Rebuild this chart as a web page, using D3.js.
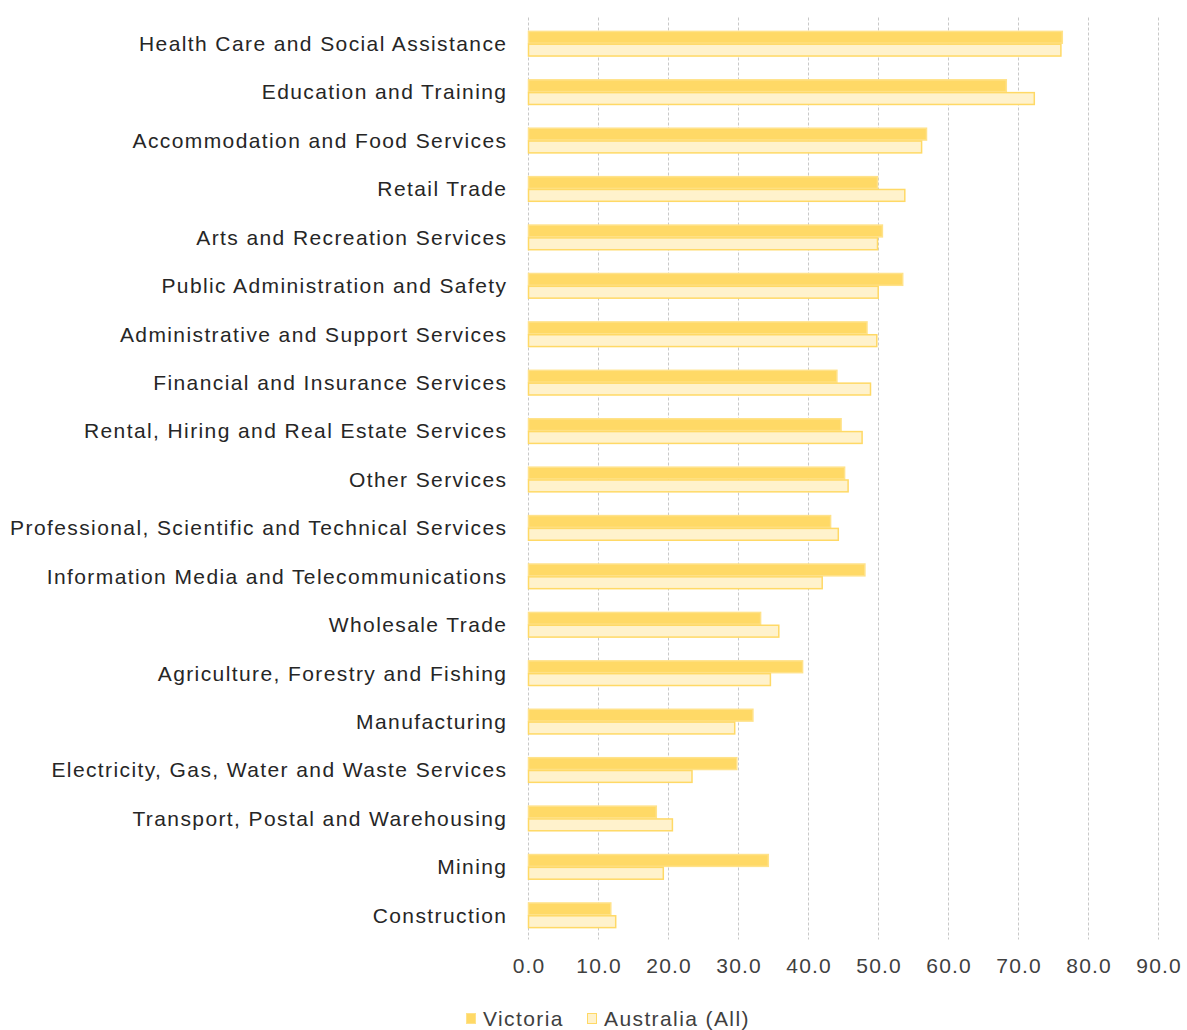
<!DOCTYPE html>
<html><head><meta charset="utf-8">
<script src="https://cdn.jsdelivr.net/npm/d3@7"></script>
<style>body{margin:0;background:#fff;} svg{display:block;}</style>
</head><body>
<svg id="chart" width="1187" height="1030"></svg>
<script>
const categories = ["Health Care and Social Assistance","Education and Training","Accommodation and Food Services","Retail Trade","Arts and Recreation Services","Public Administration and Safety","Administrative and Support Services","Financial and Insurance Services","Rental, Hiring and Real Estate Services","Other Services","Professional, Scientific and Technical Services","Information Media and Telecommunications","Wholesale Trade","Agriculture, Forestry and Fishing","Manufacturing","Electricity, Gas, Water and Waste Services","Transport, Postal and Warehousing","Mining","Construction"];
const victoria = [76.4,68.4,57.0,50.0,50.7,53.6,48.5,44.2,44.8,45.3,43.3,48.2,33.3,39.3,32.2,29.9,18.4,34.4,11.9];
const australia = [76.2,72.4,56.3,53.9,50.0,50.1,49.9,49.0,47.8,45.8,44.4,42.1,35.9,34.7,29.6,23.5,20.7,19.4,12.6];
const seriesNames = ["Victoria","Australia (All)"];
const tickValues = [0,10,20,30,40,50,60,70,80,90];

(function(){
const svg = d3.select("#chart");
const font = "'Liberation Sans', Arial, sans-serif";
const fs = 21, ls = 1.4;
const pLeft = 528, pRight = 1158, pTop = 19.5, pBottom = 939.5;
const x = d3.scaleLinear().domain([0,90]).range([pLeft,pRight]);
const y = d3.scaleBand().domain(categories).range([pTop,pBottom]).paddingInner(0.47).paddingOuter(0.235);
const sub = d3.scaleBand().domain(seriesNames).range([0,y.bandwidth()]);
const fills = {"Victoria":"#FFD966","Australia (All)":"#FFF2CC"};
const strokes = {"Victoria":"#FFE28A","Australia (All)":"#FFD966"};

svg.append("g").selectAll("line").data(tickValues).join("line")
  .attr("x1",d=>Math.round(x(d))+0.5).attr("x2",d=>Math.round(x(d))+0.5)
  .attr("y1",pTop-2).attr("y2",pBottom)
  .attr("stroke","#C8C8C8").attr("stroke-width",1).attr("stroke-dasharray","3,2");

const rows = categories.map((c,i)=>({c, vals:[{s:"Victoria",v:victoria[i]},{s:"Australia (All)",v:australia[i]}]}));
const g = svg.append("g").selectAll("g").data(rows).join("g")
  .attr("transform",d=>`translate(0,${y(d.c)})`);
g.selectAll("rect").data(d=>d.vals).join("rect")
  .attr("x",x(0)+0.5).attr("y",d=>sub(d.s)+0.5)
  .attr("width",d=>x(d.v)-x(0)-1).attr("height",sub.bandwidth()-1)
  .attr("fill",d=>fills[d.s]).attr("stroke",d=>strokes[d.s]).attr("stroke-width",1.5);

svg.append("g").selectAll("text").data(categories).join("text")
  .attr("x",pLeft-22+ls).attr("y",d=>y(d)+y.bandwidth()/2)
  .attr("dy","0.35em").attr("text-anchor","end")
  .attr("font-family",font).attr("font-size",fs).attr("letter-spacing",ls).attr("fill","#262626")
  .text(d=>d);

const xAxis = d3.axisBottom(x).tickValues(tickValues).tickFormat(d3.format(".1f")).tickSize(0).tickPadding(0);
const ax = svg.append("g").attr("transform",`translate(0,${pBottom+18})`).call(xAxis);
ax.select(".domain").remove();
ax.selectAll("text").attr("font-family",font).attr("font-size",fs).attr("letter-spacing",1.2)
  .attr("fill","#404040").attr("dy","0.75em").attr("dx",0.6);

const legendItems = [{s:"Victoria",x:466},{s:"Australia (All)",x:587}];
const lg = svg.append("g").selectAll("g").data(legendItems).join("g")
  .attr("transform",d=>`translate(${d.x},1013)`);
lg.append("rect").attr("x",0.5).attr("y",0.5).attr("width",9).attr("height",10)
  .attr("fill",d=>fills[d.s]).attr("stroke",d=>strokes[d.s]).attr("stroke-width",1);
lg.append("text").attr("x",17).attr("y",6).attr("dy","0.35em")
  .attr("font-family",font).attr("font-size",fs).attr("letter-spacing",ls).attr("fill","#404040").text(d=>d.s);
})();
</script>
</body></html>
